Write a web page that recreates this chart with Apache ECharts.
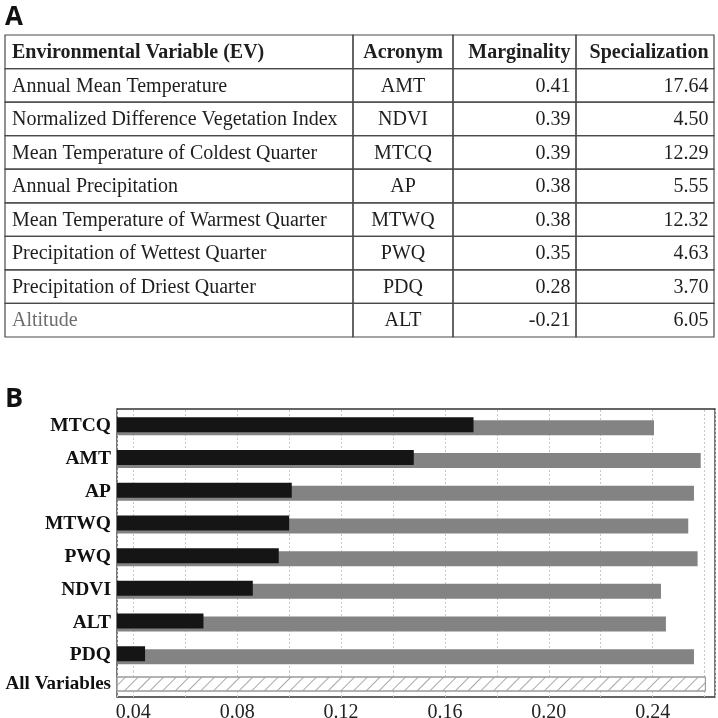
<!DOCTYPE html>
<html><head><meta charset="utf-8">
<script src="https://cdn.jsdelivr.net/npm/echarts@6/dist/echarts.min.js"></script>
<style>html,body{margin:0;padding:0;background:#fff}#c{width:718px;height:718px}</style>
</head><body><div id="c"></div>
<script>
// ---------- Panel A data (table) ----------
const tableHeaders = ['Environmental Variable (EV)', 'Acronym', 'Marginality', 'Specialization'];
const variableNames = ['Annual Mean Temperature', 'Normalized Difference Vegetation Index',
  'Mean Temperature of Coldest Quarter', 'Annual Precipitation', 'Mean Temperature of Warmest Quarter',
  'Precipitation of Wettest Quarter', 'Precipitation of Driest Quarter', 'Altitude'];
const acronyms = ['AMT', 'NDVI', 'MTCQ', 'AP', 'MTWQ', 'PWQ', 'PDQ', 'ALT'];
const marginality = [0.41, 0.39, 0.39, 0.38, 0.38, 0.35, 0.28, -0.21];
const specialization = [17.64, 4.50, 12.29, 5.55, 12.32, 4.63, 3.70, 6.05];

// ---------- Panel B data (bars) ----------
const barCategories = ['MTCQ', 'AMT', 'AP', 'MTWQ', 'PWQ', 'NDVI', 'ALT', 'PDQ'];
const blackValues = [0.171, 0.148, 0.101, 0.100, 0.096, 0.086, 0.067, 0.0445];
const grayValues = [0.2405, 0.2585, 0.2559, 0.2537, 0.2573, 0.2432, 0.2451, 0.2559];
const allVariablesCategory = ['All Variables'];
const allVariablesValue = [0.2605];
const xTickLabels = [0.04, 0.08, 0.12, 0.16, 0.20, 0.24];
const xAxisMin = 0.0337;
const xAxisMax = 0.264;

// ---------- layout (not data) ----------
const tableColEdges = [0, 348, 448, 571, 709];
const SERIF = '"Liberation Serif", "Times New Roman", serif';

const rowIndexes = [];
for (let r = 0; r <= variableNames.length; r++) rowIndexes.push(String(r));
const cells = [];
for (let r = 0; r <= variableNames.length; r++) {
  for (let c = 0; c < tableHeaders.length; c++) cells.push([c, r]);
}
function cellText(r, c) {
  if (r === 0) return tableHeaders[c];
  const i = r - 1;
  return [variableNames[i], acronyms[i], marginality[i].toFixed(2), specialization[i].toFixed(2)][c];
}
function renderCell(params, api) {
  const c = api.value(0), r = api.value(1);
  const x0 = api.coord([tableColEdges[c], r])[0];
  const x1 = api.coord([tableColEdges[c + 1], r])[0];
  const yc = api.coord([0, r])[1];
  const h = api.size([0, 1])[1];
  let tx, align;
  if (c === 0) { tx = x0 + 7; align = 'left'; }
  else if (c === 1) { tx = (x0 + x1) / 2; align = 'center'; }
  else { tx = x1 - 5.5; align = 'right'; }
  const header = r === 0;
  return {
    type: 'group',
    children: [
      { type: 'rect', shape: { x: x0, y: yc - h / 2, width: x1 - x0, height: h },
        style: { fill: 'none', stroke: '#4a4a4a', lineWidth: 1.2 } },
      { type: 'text', style: {
          text: cellText(r, c), x: tx, y: yc + 1,
          align: align, verticalAlign: 'middle', textAlign: align, textVerticalAlign: 'middle',
          font: (header ? 'bold ' : '') + '20px ' + SERIF,
          fill: (r === variableNames.length && c === 0) ? '#6e6e6e' : '#1e1e1e' } }
    ]
  };
}

function xLabelFormatter(v) {
  for (const t of xTickLabels) if (Math.abs(v - t) < 1e-6) return t.toFixed(2);
  return '';
}

const xCommon = {
  type: 'value', min: xAxisMin, max: xAxisMax, splitNumber: 12,
  minInterval: 0.02, maxInterval: 0.02,
  axisLine: { show: false }, axisTick: { show: false },
  splitLine: { show: true, lineStyle: { color: '#c9c9c9', type: [2, 2], width: 1 } }
};

const chart = echarts.init(document.getElementById('c'), null, { renderer: 'canvas' });
chart.setOption({
  animation: false,
  backgroundColor: '#fff',
  title: [
    { text: 'A', left: 5, top: 5, padding: 0, textStyle: { fontFamily: '"Open Sans", sans-serif', fontWeight: 'bold', fontSize: 26, color: '#111' } },
    { text: 'B', left: 5, top: 386, padding: 0, textStyle: { fontFamily: '"Open Sans", sans-serif', fontWeight: 'bold', fontSize: 27, color: '#111' } }
  ],
  grid: [
    { left: 5, top: 35, width: 709, height: 302, outerBoundsMode: 'none', containLabel: false },
    { left: 117, top: 410, width: 598, height: 261.6, outerBoundsMode: 'none', containLabel: false },
    { left: 117, top: 671, width: 598, height: 26, outerBoundsMode: 'none', containLabel: false },
    { left: 117, top: 409, width: 598, height: 288, outerBoundsMode: 'none', containLabel: false,
      show: true, borderColor: '#333', borderWidth: 1.3, backgroundColor: 'transparent' }
  ],
  xAxis: [
    { gridIndex: 0, type: 'value', min: 0, max: tableColEdges[tableColEdges.length - 1], show: false },
    Object.assign({ gridIndex: 1, axisLabel: { show: false } }, xCommon),
    Object.assign({ gridIndex: 2, axisLabel: { show: true, formatter: xLabelFormatter, margin: 6,
      fontFamily: SERIF, fontSize: 20, color: '#222' } }, xCommon),
    { gridIndex: 3, type: 'value', show: false }
  ],
  yAxis: [
    { gridIndex: 0, type: 'category', data: rowIndexes, inverse: true, show: false },
    { gridIndex: 1, type: 'category', data: barCategories, inverse: true,
      axisLine: { show: false }, axisTick: { show: false },
      axisLabel: { margin: 6, fontFamily: SERIF, fontWeight: 'bold', fontSize: 19.5, color: '#111' } },
    { gridIndex: 2, type: 'category', data: allVariablesCategory, inverse: true,
      axisLine: { show: false }, axisTick: { show: false },
      axisLabel: { margin: 6, fontFamily: SERIF, fontWeight: 'bold', fontSize: 19, color: '#111' } },
    { gridIndex: 3, type: 'value', show: false }
  ],
  series: [
    { type: 'custom', xAxisIndex: 0, yAxisIndex: 0, data: cells, renderItem: renderCell, silent: true, clip: false },
    { type: 'bar', name: 'black', xAxisIndex: 1, yAxisIndex: 1, data: blackValues, barWidth: 15, barGap: '-80%',
      clip: true, z: 3, itemStyle: { color: '#151515' } },
    { type: 'bar', name: 'gray', xAxisIndex: 1, yAxisIndex: 1, data: grayValues, barWidth: 15, barGap: '-80%',
      clip: true, z: 2, itemStyle: { color: '#838383' } },
    { type: 'bar', name: 'all', xAxisIndex: 2, yAxisIndex: 2, data: allVariablesValue, barWidth: 15,
      clip: true, z: 2,
      itemStyle: { color: '#ffffff', borderColor: '#9a9a9a', borderWidth: 1,
        decal: { symbol: 'rect', symbolSize: 1, color: '#a8a8a8', dashArrayX: [1, 0], dashArrayY: [1, 8], rotation: -Math.PI / 4 } } }
  ]
});
</script>
</body></html>
